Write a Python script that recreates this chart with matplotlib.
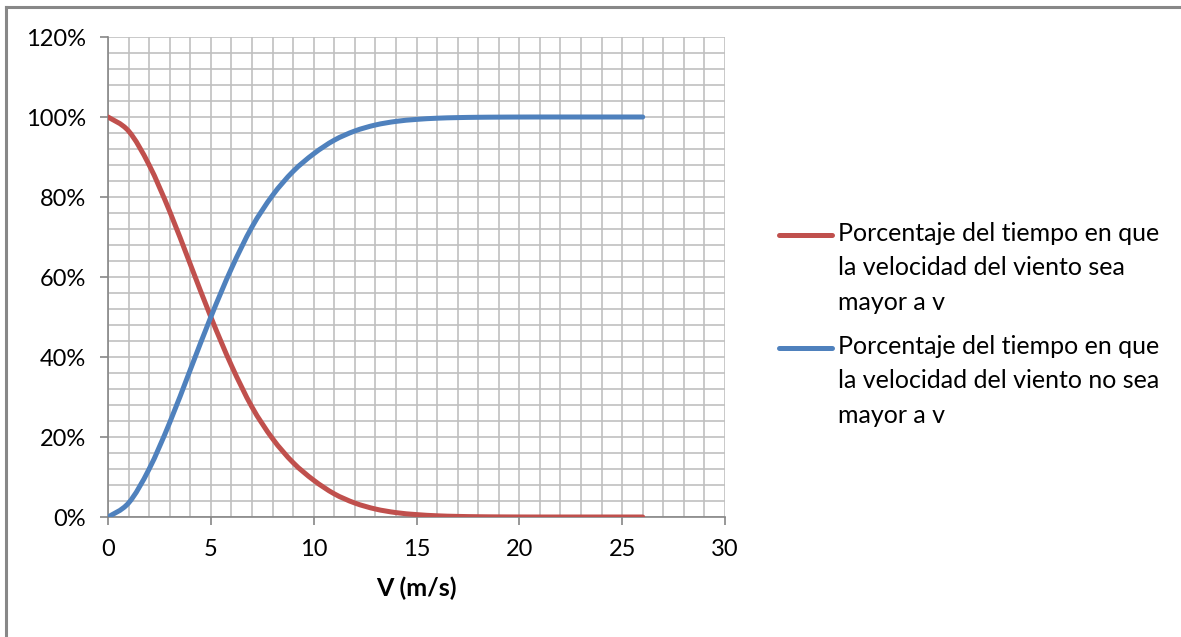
import numpy as np
import matplotlib.pyplot as plt
from matplotlib.lines import Line2D
from matplotlib.path import Path
from matplotlib.patches import PathPatch
from matplotlib.ticker import MultipleLocator, FuncFormatter

plt.rcParams['font.family'] = ['Lato', 'DejaVu Sans']

# wind speed (m/s)
v = list(range(0, 27))
# % of time wind speed is greater than v
mayor = [100, 96.5, 88.0, 76.4, 63.2, 50.0, 37.9, 27.5, 19.6, 13.6,
         9.2, 5.8, 3.5, 2.0, 1.1, 0.6, 0.3, 0.15, 0.07, 0.03,
         0.01, 0, 0, 0, 0, 0, 0]
# % of time wind speed is not greater than v
no_mayor = [0, 3.5, 12.0, 23.6, 36.8, 50.0, 62.1, 72.5, 80.4, 86.4,
            90.8, 94.2, 96.5, 98.0, 98.9, 99.4, 99.7, 99.85, 99.93, 99.97,
            99.99, 100, 100, 100, 100, 100, 100]

labels = ["Porcentaje del tiempo en que\nla velocidad del viento sea\nmayor a v",
          "Porcentaje del tiempo en que\nla velocidad del viento no sea\nmayor a v"]

red = "#C0504D"
blue = "#4F81BD"
grid_c = "#C0C0C0"
axis_c = "#868686"


def smooth_path(x, y):
    # Excel-like smoothed line: cubic bezier through the points
    pts = np.column_stack([x, y]).astype(float)
    verts = [pts[0]]
    codes = [Path.MOVETO]
    n = len(pts)
    for i in range(n - 1):
        p0 = pts[max(i - 1, 0)]
        p1 = pts[i]
        p2 = pts[i + 1]
        p3 = pts[min(i + 2, n - 1)]
        c1 = p1 + (p2 - p0) / 6
        c2 = p2 - (p3 - p1) / 6
        verts += [c1, c2, p2]
        codes += [Path.CURVE4] * 3
    return Path(verts, codes)


fig = plt.figure(figsize=(11.81, 6.37), dpi=100)
ax = fig.add_axes([108 / 1181, 1 - 517 / 637, 617 / 1181, 480 / 637])

for ys, c in [(mayor, red), (no_mayor, blue)]:
    ax.add_patch(PathPatch(smooth_path(v, ys), facecolor='none', edgecolor=c,
                           lw=3.6, capstyle='round', joinstyle='round', zorder=3))

ax.set_xlim(0, 30)
ax.set_ylim(0, 120)
ax.xaxis.set_major_locator(MultipleLocator(5))
ax.xaxis.set_minor_locator(MultipleLocator(1))
ax.yaxis.set_major_locator(MultipleLocator(20))
ax.yaxis.set_minor_locator(MultipleLocator(4))
ax.yaxis.set_major_formatter(FuncFormatter(lambda y, p: f"{y:.0f}%"))

ax.grid(True, which='both', color=grid_c, lw=1.2, zorder=0)
ax.set_axisbelow(True)

for side in ['top', 'right']:
    ax.spines[side].set_visible(False)
for side in ['left', 'bottom']:
    ax.spines[side].set_color(axis_c)
    ax.spines[side].set_linewidth(1.2)

ax.tick_params(which='major', length=6, width=1.2, color=axis_c,
               labelsize=17, labelcolor='#000000')
ax.tick_params(which='minor', length=0)
ax.tick_params(axis='x', pad=10)
ax.tick_params(axis='y', pad=10)

ax.set_xlabel("V (m/s)", fontsize=18, fontweight='bold', labelpad=12)

# legend drawn by hand so the line sits at the first text line
leg_y = [235, 348]
for yy, c, lab in zip(leg_y, [red, blue], labels):
    fy = 1 - yy / 637
    fig.add_artist(Line2D([779 / 1181, 832 / 1181], [fy, fy], color=c, lw=3.6,
                          solid_capstyle='round'))
    fig.text(838 / 1181, 1 - (yy - 13) / 637, lab, fontsize=18, va='top', ha='left',
             linespacing=1.6)

# chart frame
fig.add_artist(Line2D([6 / 1181, 1], [1 - 7 / 637, 1 - 7 / 637], color="#888888", lw=2.2))
fig.add_artist(Line2D([6 / 1181, 6 / 1181], [0, 1 - 7 / 637], color="#888888", lw=2.2))

fig.savefig("out.png", dpi=100)
